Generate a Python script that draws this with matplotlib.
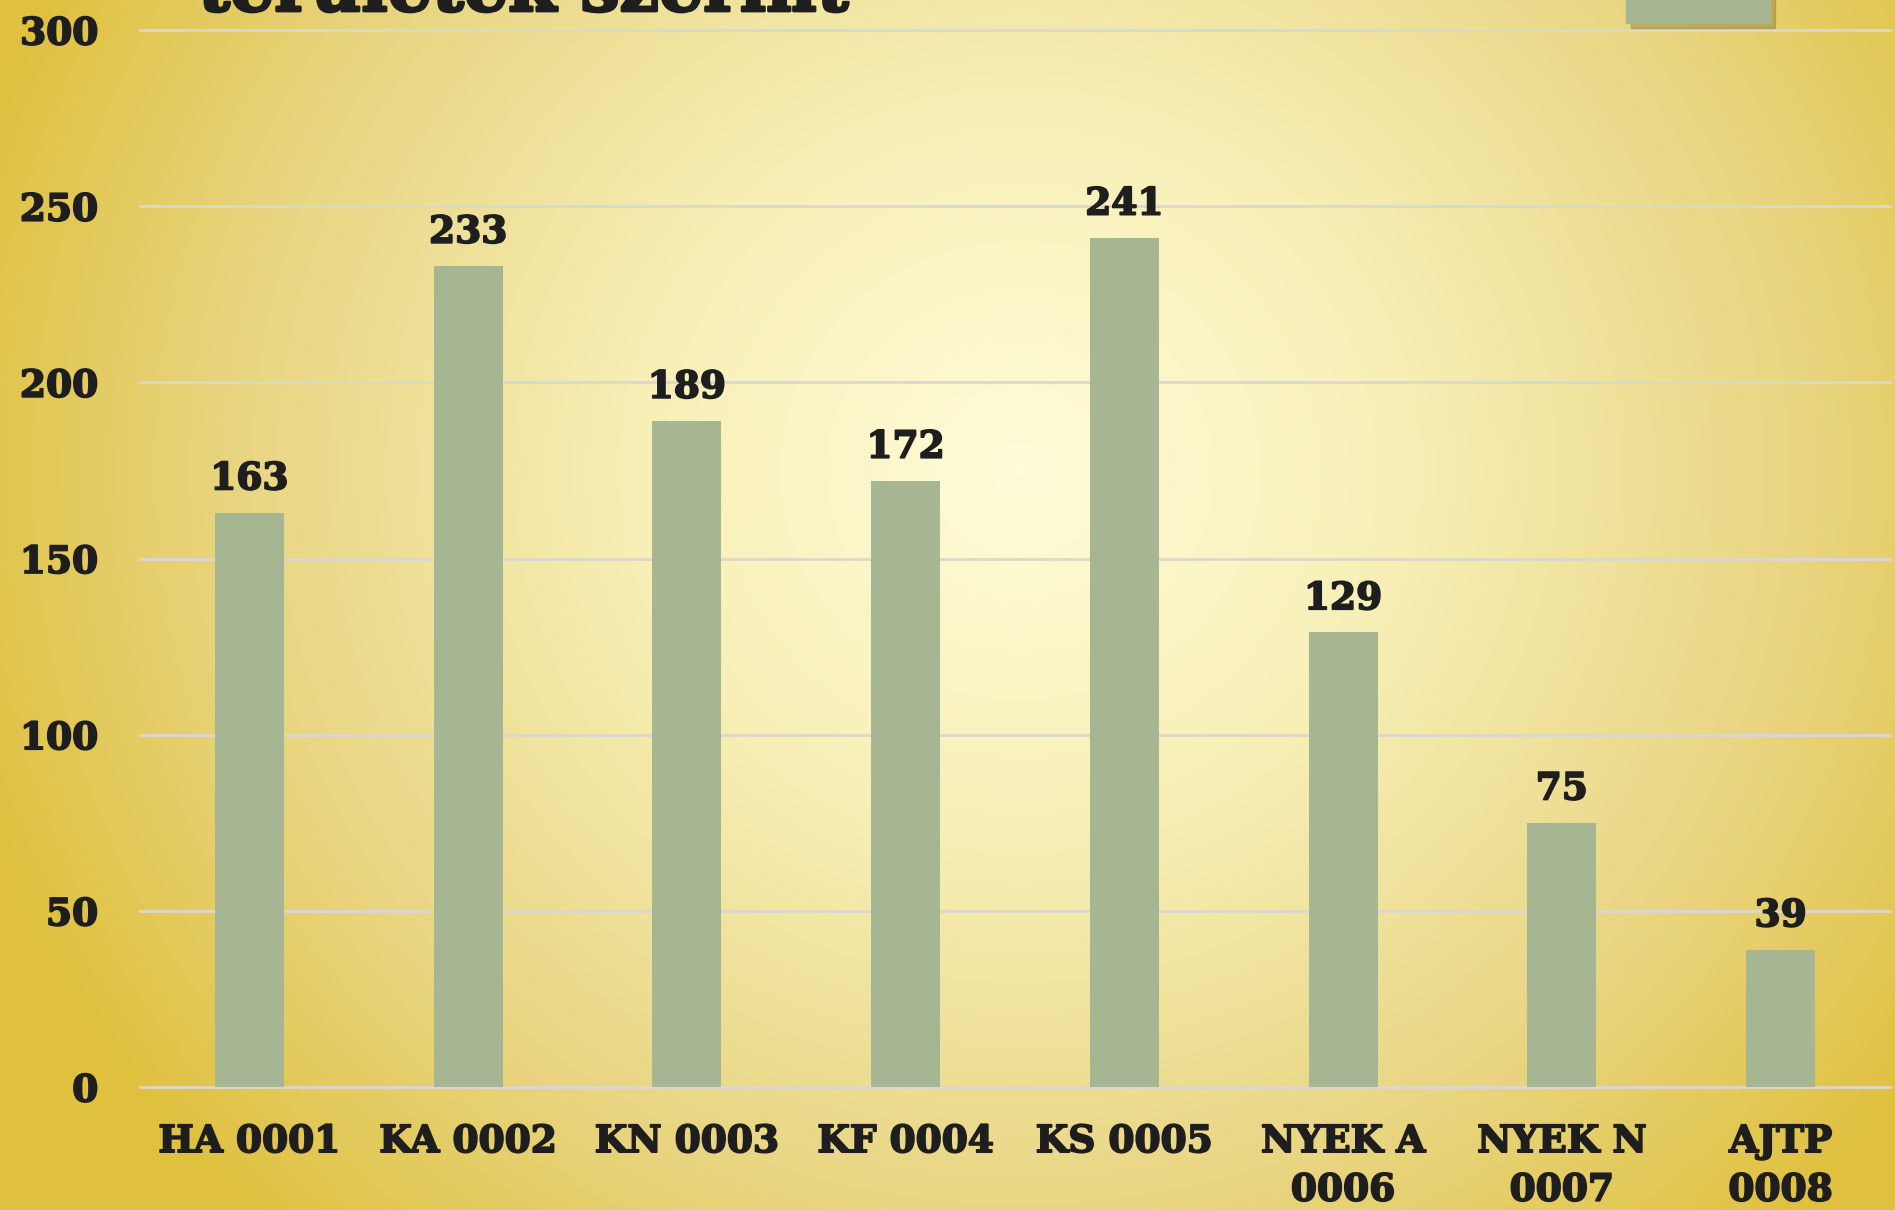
import numpy as np
import matplotlib
matplotlib.use("Agg")
import matplotlib.pyplot as plt
import matplotlib.patheffects as pe
from matplotlib.colors import LinearSegmentedColormap
from matplotlib.patches import Rectangle

categories = ["HA 0001", "KA 0002", "KN 0003", "KF 0004", "KS 0005",
              "NYEK A\n0006", "NYEK N\n0007", "AJTP\n0008"]
values = [163, 233, 189, 172, 241, 129, 75, 39]
yticks = [0, 50, 100, 150, 200, 250, 300]
title_text = "területek szerint"

W, H, DPI = 1895, 1210, 100
fig = plt.figure(figsize=(W / DPI, H / DPI), dpi=DPI)

# radial gradient background
bg = fig.add_axes([0, 0, 1, 1], zorder=-10)
yy, xx = np.mgrid[0:H, 0:W]
cx, cy = 1020, 470
d = np.sqrt(((xx - cx) / 1100.0) ** 2 + ((yy - cy) / 1050.0) ** 2)
d = np.clip(d, 0, 1)
cmap = LinearSegmentedColormap.from_list(
    "bg", [(0, "#fffcd8"), (0.35, "#f7efb6"), (0.7, "#e9d684"), (1.0, "#dfc13f")])
bg.imshow(d, cmap=cmap, aspect="auto", extent=[0, 1, 0, 1], origin="upper",
          vmin=0, vmax=1)
bg.set_axis_off()

font = "DejaVu Serif"
bold_fx = [pe.withStroke(linewidth=1.3, foreground="#1e1e1e")]
ax = fig.add_axes([140 / W, (H - 1087) / H, (1890 - 140) / W, (1087 - 30) / H])
ax.set_facecolor("none")
x = np.arange(len(categories))
ax.bar(x, values, width=0.315, color="#a6b592", zorder=3)
ax.set_xlim(-0.5, len(categories) - 0.5)
ax.set_ylim(0, 300)
ax.set_yticks(yticks)
ax.set_yticklabels([str(t) for t in yticks], fontsize=27, fontweight="bold",
                   family=font, color="#1e1e1e", path_effects=bold_fx)
ax.set_xticks(x)
ax.set_xticklabels(categories, fontsize=27, fontweight="bold", family=font,
                   color="#1e1e1e", linespacing=1.4, path_effects=bold_fx)
ax.tick_params(axis="both", length=0)
ax.tick_params(axis="x", pad=26)
ax.tick_params(axis="y", pad=30)
ax.grid(axis="y", color="#d8d8d0", linewidth=2, zorder=0)
for gl in ax.get_ygridlines():
    gl.set_clip_on(False)
for s in ax.spines.values():
    s.set_visible(False)

for xi, v in zip(x, values):
    ax.annotate(str(v), (xi, v), xytext=(0, 11), textcoords="offset points",
                ha="center", va="bottom", fontsize=27, fontweight="bold",
                family=font, color="#1e1e1e", zorder=4, path_effects=bold_fx)

# partially visible title at the top (cropped, as in the original slide)
fig.text(198 / W, (H - 11) / H, title_text, ha="left", va="baseline",
         fontsize=50, fontweight="bold", family=font, color="#1e1e1e",
         path_effects=[pe.withStroke(linewidth=2, foreground="#1e1e1e")])

# partially visible legend swatch (cropped) with shadow
fig.patches.append(Rectangle((1631 / W, (H - 28) / H), 144 / W, 40 / H,
                             transform=fig.transFigure, color="#8f7d2a",
                             alpha=0.45, zorder=5))
fig.patches.append(Rectangle((1626 / W, (H - 23) / H), 144 / W, 40 / H,
                             transform=fig.transFigure, color="#a6b592",
                             zorder=6))

fig.savefig("out.png", dpi=DPI)
